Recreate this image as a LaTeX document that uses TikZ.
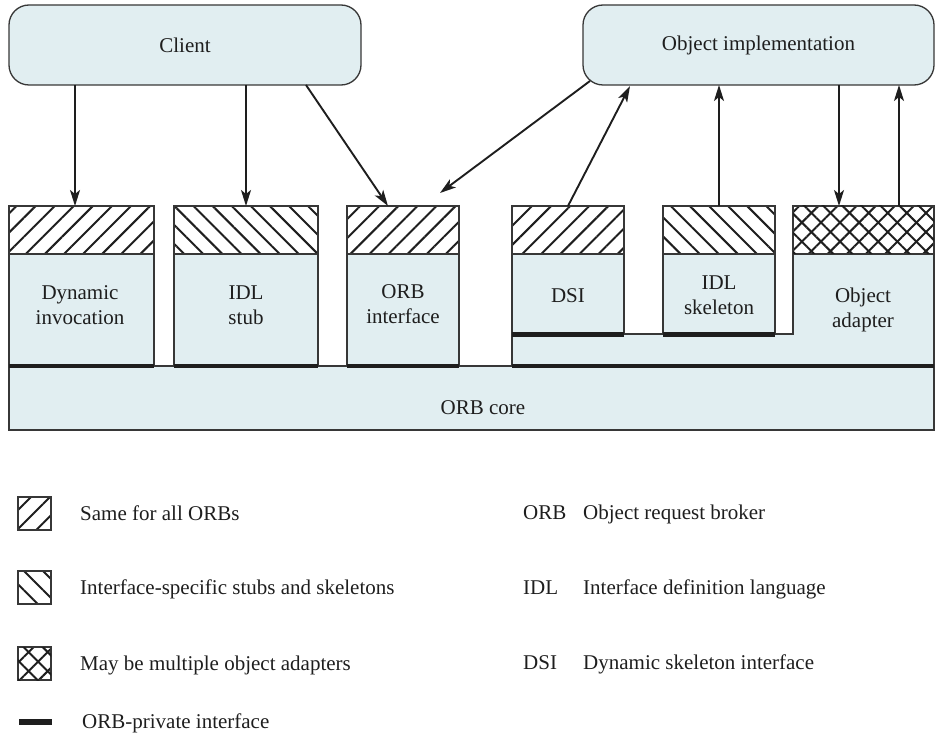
\documentclass[tikz,border=0pt]{standalone}
\usepackage{fontspec}
\setmainfont{Liberation Serif}
\usetikzlibrary{patterns.meta,arrows.meta,calc}
\definecolor{boxfill}{RGB}{225,238,241}
\definecolor{edge}{RGB}{55,55,55}
\definecolor{ink}{RGB}{30,30,30}
\begin{document}
\begin{tikzpicture}[x=1pt,y=-1pt,
  every node/.style={font=\fontsize{21}{25}\selectfont, text=ink},
  txt/.style={align=center, inner sep=0pt},
  box/.style={draw=edge, line width=1.3pt, fill=boxfill, inner sep=0pt, outer sep=0pt, anchor=north west},
  topbox/.style={box, rounded corners=20pt},
  hne/.style={draw=edge, line width=1.3pt, inner sep=0pt, outer sep=0pt, anchor=north west,
    pattern={Lines[angle=45,distance=13.5pt,line width=2pt]}, pattern color=ink},
  hnw/.style={draw=edge, line width=1.3pt, inner sep=0pt, outer sep=0pt, anchor=north west,
    pattern={Lines[angle=-45,distance=13.5pt,line width=2pt]}, pattern color=ink},
  hx/.style={draw=edge, line width=1.3pt, inner sep=0pt, outer sep=0pt, anchor=north west,
    pattern={Lines[angle=45,distance=13.5pt,line width=2pt]}, pattern color=ink,
    postaction={pattern={Lines[angle=-45,distance=13.5pt,line width=2pt]}, pattern color=ink}},
  arr/.style={line width=1.9pt, draw=ink, -{Stealth[length=16pt,width=10pt,inset=4pt]}},
  priv/.style={line width=4.5pt, draw=ink},
  leg/.style={anchor=base west, inner sep=0pt}
]
\useasboundingbox (0,0) rectangle (935,738);

% top boxes
\node[topbox, minimum width=352, minimum height=80] (client) at (9,5) {};
\node[txt] (clienttxt) at (client.center) {Client};
\node[topbox, minimum width=351, minimum height=80] (oimpl) at (583,5) {};
\node[txt] (oimpltxt) at (oimpl.center) {Object implementation};

% ORB core
\node[box, minimum width=925, minimum height=64] (core) at (9,366) {};
\node[txt] (coretxt) at (483,408) {ORB core};

% platform with object adapter body
\path[draw=edge, line width=1.3pt, fill=boxfill] (512,366) -- (512,334) -- (793,334) -- (793,254) -- (934,254) -- (934,366) -- cycle;

% left blocks
\node[hne, minimum width=145, minimum height=48] (dynh) at (9,206) {};
\node[box, minimum width=145, minimum height=112] (dyn) at (9,254) {};
\node[txt] (dyntxt) at (80,305) {Dynamic\\invocation};

\node[hnw, minimum width=144, minimum height=48] (stubh) at (174,206) {};
\node[box, minimum width=144, minimum height=112] (stub) at (174,254) {};
\node[txt] (stubtxt) at (246,305) {IDL\\stub};

\node[hne, minimum width=112, minimum height=48] (oih) at (347,206) {};
\node[box, minimum width=112, minimum height=112] (oi) at (347,254) {};
\node[txt] (oitxt) at (403,304) {ORB\\interface};

% right blocks
\node[hne, minimum width=112, minimum height=48] (dsih) at (512,206) {};
\node[box, minimum width=112, minimum height=80.5] (dsi) at (512,254) {};
\node[txt] (dsitxt) at (568,296) {DSI};

\node[hnw, minimum width=112, minimum height=48] (skh) at (663,206) {};
\node[box, minimum width=112, minimum height=80.5] (sk) at (663,254) {};
\node[txt] (sktxt) at (719,295) {IDL\\skeleton};

\node[hx, minimum width=141, minimum height=48] (oah) at (793,206) {};
\node[txt] (oatxt) at (863,310) {Object\\adapter};

% ORB-private interfaces
\draw[priv] (dyn.south west) -- (dyn.south east);
\draw[priv] (stub.south west) -- (stub.south east);
\draw[priv] (oi.south west) -- (oi.south east);
\draw[priv] (dsi.south west) -- (dsi.south east);
\draw[priv] (sk.south west) -- (sk.south east);
\draw[priv] (core.north -| dsi.west) -- (core.north east);

% arrows
\coordinate (a1) at ($(dynh.north)+(-6.5,0)$);
\draw[arr] (client.south -| a1) -- (a1);
\draw[arr] (client.south -| stubh.north) -- (stubh.north);
\draw[arr] ($(client.south east)+(-55,0)$) -- ($(oih.north)+(-15,0)$);
\draw[arr] ($(oimpl.south west)+(7,-4)$) -- ($(oih.north east)+(-19,-13)$);
\draw[arr] (dsih.north) -- ($(oimpl.south west)+(47,1)$);
\draw[arr] (skh.north) -- (skh.north |- oimpl.south);
\coordinate (a7) at ($(oah.north)+(-24.5,0)$);
\draw[arr] (oimpl.south -| a7) -- (a7);
\coordinate (a8) at ($(oah.north)+(35.5,0)$);
\draw[arr] (a8) -- (oimpl.south -| a8);

% legend
\node[hne, minimum size=33] (lg1) at (18,497) {};
\node[leg] (lt1) at (80,520) {Same for all ORBs};
\node[hnw, minimum size=33] (lg2) at (18,571) {};
\node[leg] (lt2) at (80,594) {Interface-specific stubs and skeletons};
\node[hx, minimum size=33] (lg3) at (18,647) {};
\node[leg] (lt3) at (80,670) {May be multiple object adapters};
\coordinate (lb1) at (19,722);
\coordinate (lb2) at (52,722);
\draw[line width=6pt, draw=ink] (lb1) -- (lb2);
\node[leg] (lt4) at (82,728) {ORB-private interface};

\node[leg] (ab1) at (523,519) {ORB};
\node[leg] (ad1) at (583,519) {Object request broker};
\node[leg] (ab2) at (523,594) {IDL};
\node[leg] (ad2) at (583,594) {Interface definition language};
\node[leg] (ab3) at (523,669) {DSI};
\node[leg] (ad3) at (583,669) {Dynamic skeleton interface};
\end{tikzpicture}
\end{document}
